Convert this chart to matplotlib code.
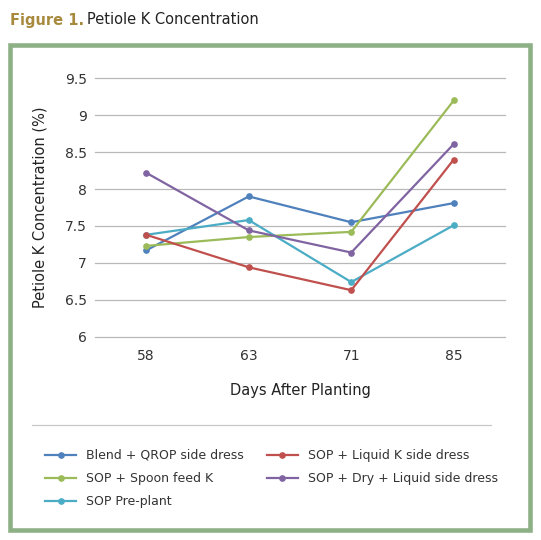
import matplotlib
matplotlib.use("Agg")
import matplotlib.pyplot as plt
from matplotlib.patches import Rectangle
from matplotlib.lines import Line2D

plt.rcParams['font.family'] = ['DejaVu Sans']

days = ['58', '63', '71', '85']
blend_qrop = [7.17, 7.90, 7.55, 7.81]
sop_liquid_k = [7.38, 6.94, 6.63, 8.40]
sop_spoon = [7.23, 7.35, 7.42, 9.20]
sop_dry_liquid = [8.22, 7.44, 7.14, 8.61]
sop_preplant = [7.38, 7.58, 6.74, 7.51]

series = [
    ('Blend + QROP side dress', blend_qrop, '#4f81bd'),
    ('SOP + Spoon feed K', sop_spoon, '#9bbb59'),
    ('SOP Pre-plant', sop_preplant, '#4bacc6'),
    ('SOP + Liquid K side dress', sop_liquid_k, '#c0504d'),
    ('SOP + Dry + Liquid side dress', sop_dry_liquid, '#8064a2'),
]
yticks = [6, 6.5, 7, 7.5, 8, 8.5, 9, 9.5]

W, H = 541, 540
fig = plt.figure(figsize=(W / 100, H / 100), dpi=100)
ax = fig.add_axes([95 / W, 1 - 336.7 / H, 410 / W, (336.7 - 78.3) / H])

x = list(range(len(days)))
for name, vals, col in series:
    ax.plot(x, vals, color=col, lw=1.6, marker='o', ms=3.8, label=name)

ax.set_xlim(-0.5, 3.5)
ax.set_ylim(6, 9.5)
ax.set_yticks(yticks)
ax.set_yticklabels(['6', '6.5', '7', '7.5', '8', '8.5', '9', '9.5'])
ax.set_xticks(x)
ax.set_xticklabels(days)
ax.grid(axis='y', color='#b8b8b8', lw=0.9)
for gl in ax.get_ygridlines():
    gl.set_clip_on(False)
ax.set_axisbelow(True)
for s in ax.spines.values():
    s.set_visible(False)
ax.tick_params(length=0, labelsize=10, colors='#333333')
ax.tick_params(axis='y', pad=6)
ax.tick_params(axis='x', pad=9)
ax.set_xlabel('Days After Planting', fontsize=10.5, color='#222222', labelpad=14)
ax.set_ylabel('Petiole K Concentration (%)', fontsize=10.5, color='#222222', labelpad=12)

# legend
handles, labels = ax.get_legend_handles_labels()
fig.legend(handles, labels, ncol=2, loc='upper left',
           bbox_to_anchor=(45 / W, 1 - 449 / H), frameon=False,
           fontsize=9, labelcolor='#333333', handlelength=2.5,
           handletextpad=0.8, columnspacing=1.8, labelspacing=0.8,
           borderaxespad=0, borderpad=0)

# separator above legend
fig.add_artist(Line2D([32 / W, 491 / W], [1 - 425 / H, 1 - 425 / H],
                      color='#c8c8c8', lw=0.9))

# green frame
fig.add_artist(Rectangle((10.2 / W, 1 - 529.8 / H), (530 - 10.2) / W,
                         (529.8 - 45) / H, fill=False, ec='#8db085', lw=3.3))

# title
t1 = fig.text(10 / W, 1 - 20 / H, 'Figure 1.', fontsize=10.5, fontweight='bold',
              color='#a88a3e', va='center', ha='left')
fig.canvas.draw()
bb = t1.get_window_extent()
fig.text((bb.x1 + 3) / W, 1 - 20 / H, 'Petiole K Concentration', fontsize=10.5,
         color='#222222', va='center', ha='left')

fig.savefig('out.png', dpi=100)
